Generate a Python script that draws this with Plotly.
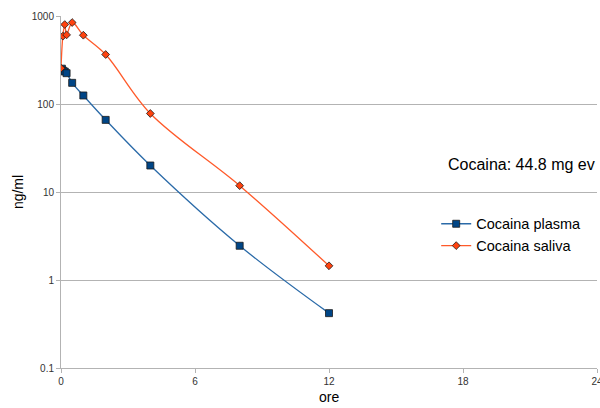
import plotly.graph_objects as go

hours_plasma = [0.04, 0.083, 0.167, 0.25, 0.5, 1, 2, 4, 8, 12]
plasma = [252, 240, 234, 224, 174, 125, 66, 20, 2.45, 0.42]
hours_saliva = [0.0, 0.083, 0.167, 0.25, 0.5, 1, 2, 4, 8, 12]
saliva = [255, 590, 800, 610, 843, 605, 365, 78, 11.8, 1.45]
x_ticks = [0, 6, 12, 18, 24]
y_ticks = [0.1, 1, 10, 100, 1000]
y_labels = ["0.1", "1", "10", "100", "1000"]

fig = go.Figure()
fig.add_trace(go.Scatter(
    x=hours_plasma, y=plasma, name="Cocaina plasma", mode="lines+markers",
    line=dict(color="#2a6aa8", width=1.3, shape="spline", smoothing=1.0),
    marker=dict(symbol="square", size=7, color="#004586", line=dict(color="#1a1a1a", width=0.8)),
))
fig.add_trace(go.Scatter(
    x=hours_saliva, y=saliva, name="Cocaina saliva", mode="lines+markers",
    line=dict(color="#ff5a2a", width=1.3, shape="spline", smoothing=1.0),
    marker=dict(symbol="diamond", size=6, color="#ff420e", line=dict(color="#1a1a1a", width=0.8)),
))

fig.add_annotation(text="Cocaina: 44.8 mg ev", xref="paper", yref="paper",
                   x=0.718, y=0.577, xanchor="left", yanchor="middle", showarrow=False,
                   font=dict(size=16, color="#000000"))
fig.add_annotation(text="ore", xref="paper", yref="paper",
                   x=0.5, y=-0.083, xanchor="center", yanchor="middle", showarrow=False,
                   font=dict(size=14, color="#000000"))
fig.add_annotation(text="ng/ml", xref="paper", yref="paper", textangle=-90,
                   x=-0.08, y=0.5, xanchor="center", yanchor="middle", showarrow=False,
                   font=dict(size=14, color="#000000"))

fig.update_layout(
    width=600, height=408,
    margin=dict(l=61, r=3, t=16, b=40, autoexpand=False),
    paper_bgcolor="white", plot_bgcolor="white",
    font=dict(family="Liberation Sans, Arial, sans-serif", color="#000000"),
    showlegend=True,
    legend=dict(x=0.70, y=0.455, xanchor="left", yanchor="top",
                font=dict(size=14.5, color="#000000"), bgcolor="rgba(0,0,0,0)",
                tracegroupgap=0, itemwidth=30),
    xaxis=dict(range=[0, 24], tickvals=x_ticks, showgrid=False, zeroline=False,
               showline=True, linecolor="#b3b3b3", linewidth=1, automargin=False,
               ticks="outside", ticklen=4, tickcolor="#b3b3b3", ticklabeloverflow="allow",
               tickfont=dict(size=10, color="#333333")),
    yaxis=dict(type="log", range=[-1, 3], tickvals=y_ticks, ticktext=y_labels,
               showgrid=True, gridcolor="#b3b3b3", gridwidth=1, zeroline=False,
               showline=True, linecolor="#b3b3b3", linewidth=1, automargin=False,
               ticks="outside", ticklen=4, tickcolor="#b3b3b3",
               tickfont=dict(size=10, color="#333333")),
)

fig.write_html("out.html", config={"displayModeBar": False},
               post_script="document.body.style.margin='0';document.body.style.overflow='hidden';")
